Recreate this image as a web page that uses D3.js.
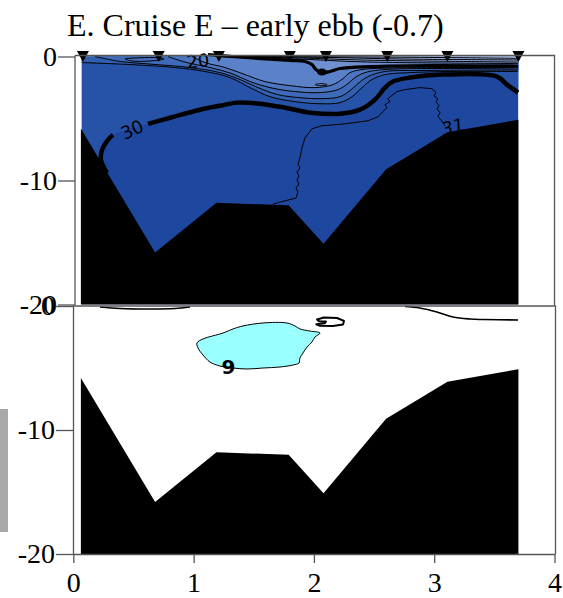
<!DOCTYPE html>
<html>
<head>
<meta charset="utf-8">
<script src="https://cdn.jsdelivr.net/npm/d3@7"></script>
<style>
  body { margin: 0; background: #fff; }
  svg { display: block; }
  .tick text { font-family: "Liberation Serif", "Times New Roman", serif; font-size: 28px; fill: #000; }
  .tick line, .domain { stroke: #555; stroke-width: 1.3; }
</style>
</head>
<body>
<svg id="chart" width="563" height="598"></svg>
<script>
// ---- section data (distance along transect in km, depth in m) ----
const title = "E. Cruise E \u2013 early ebb (-0.7)";
const xTicks = [0, 1, 2, 3, 4];
const yTicks = [0, -10, -20];
const stations = [0.08, 0.71, 1.21, 1.80, 2.10, 2.61, 3.11, 3.70];
const sectionStart = 0.07, sectionEnd = 3.70;
const bathymetry = [[0.063, -5.8], [0.68, -15.8], [1.19, -11.8], [1.79, -12.0], [2.08, -15.1],
                    [2.60, -9.1], [3.11, -6.1], [3.70, -5.1]];

// salinity isolines (upper panel)
const sal30 = [[0.280, -9.39], [0.230, -8.34], [0.239, -7.53], [0.288, -6.72], [0.330, -6.32], null,
               [0.621, -5.43], [0.804, -4.94], [1.053, -4.29], [1.219, -3.97], [1.361, -3.72],
               [1.552, -3.81], [1.760, -4.13], [1.968, -4.53], [2.217, -4.62], [2.383, -4.29],
               [2.508, -3.48], [2.591, -2.51], [2.657, -2.02], [2.798, -1.70], [3.073, -1.46],
               [3.522, -1.62], [3.605, -2.27], [3.697, -2.91]];
const sal29 = [[0.072, -0.49], [0.471, -0.65], [0.845, -0.89], [1.095, -1.21], [1.303, -1.70],
               [1.469, -2.51], [1.635, -3.24], [1.843, -3.64], [2.051, -3.81], [2.217, -3.72],
               [2.317, -3.24], [2.400, -2.51], [2.483, -1.86], [2.591, -1.46], [2.798, -1.30],
               [3.131, -1.21], [3.697, -1.21]];
const sal28 = [[0.180, 0], [0.388, -0.40], [0.638, -0.61], [0.970, -0.89], [1.219, -1.30],
               [1.386, -1.86], [1.535, -2.51], [1.702, -3.08], [1.884, -3.32], [2.067, -3.40],
               [2.217, -3.24], [2.300, -2.75], [2.366, -2.19], [2.450, -1.62], [2.591, -1.21],
               [2.881, -1.13], [3.697, -1.09]];
const sal27 = [[0.787, 0], [0.929, -0.45], [1.136, -0.89], [1.319, -1.38], [1.469, -2.02],
               [1.635, -2.51], [1.843, -2.83], [2.051, -2.91], [2.200, -2.67], [2.283, -2.19],
               [2.341, -1.70], [2.425, -1.30], [2.591, -1.05], [3.697, -1.01]];
const sal26 = [[0.987, 0], [1.095, -0.49], [1.261, -0.89], [1.427, -1.46], [1.593, -2.02],
               [1.801, -2.35], [2.009, -2.51], [2.158, -2.27], [2.242, -1.78], [2.300, -1.30],
               [2.400, -1.05], [2.633, -0.93], [3.697, -0.89]];
const sal25 = [[1.120, 0.16], [1.370, -0.04], [1.801, -0.32], [1.926, -0.40], [1.984, -0.65],
               [2.017, -1.05], [2.067, -1.30], [2.134, -1.21], [2.217, -0.97], [2.466, -0.81],
               [2.965, -0.73], [3.697, -0.77]];
const sal24 = [[1.178, 0], [1.552, -0.12], [1.968, -0.24], [2.300, -0.40], [2.715, -0.49], [3.697, -0.57]];
const sal23 = [[1.236, 0], [1.884, -0.12], [2.383, -0.28], [2.881, -0.36], [3.697, -0.45]];
const sal22 = [[1.319, 0], [2.134, -0.08], [2.715, -0.20], [3.697, -0.28]];
const sal21 = [[1.510, 0], [2.383, -0.04], [3.048, -0.08], [3.697, -0.15]];
const sal31 = [[1.660, -11.90], [1.784, -11.58], [1.851, -11.42], [1.868, -10.93], [1.851, -10.61],
               [1.876, -10.28], [1.859, -9.96], [1.876, -9.64], [1.859, -9.31], [1.884, -8.99],
               [1.868, -8.66], [1.884, -8.18], [1.901, -7.37], [1.926, -6.56], [1.984, -5.83],
               [2.067, -5.59], [2.258, -5.43], [2.450, -5.18], [2.533, -4.86], [2.574, -4.45],
               [2.607, -4.13], [2.591, -3.89], [2.632, -3.64], [2.615, -3.40], [2.657, -3.08],
               [2.690, -2.83], [2.757, -2.67], [2.881, -2.51], [2.981, -2.59], [3.015, -2.91],
               [2.998, -3.16], [3.031, -3.40], [3.015, -3.64], [3.040, -3.97], [3.023, -4.21],
               [3.048, -4.53], [3.031, -4.86], [3.056, -5.10], [3.090, -5.59]];
const salLoop = [[0.430, -0.20], [0.554, -0.11], [0.704, -0.10], [0.754, -0.20], [0.638, -0.36],
                 [0.488, -0.36]];
const salEye = [[2.010, -2.27], [2.060, -2.19], [2.110, -2.27], [2.060, -2.35]];
const salBlob = [2.067, -1.26];

// fill order: deeper/saltier first, fresher bands painted on top
const salBands = [
  { line: sal30, color: "#2652a8" },
  { line: sal29, color: "#3260b1" },
  { line: sal28, color: "#3e6ab9" },
  { line: sal27, color: "#4c76c1" },
  { line: sal26, color: "#5b82c8" },
  { line: sal25, color: "#6f8fd1" },
  { line: sal24, color: "#7f9bd6" },
  { line: sal23, color: "#91aadd" },
  { line: sal22, color: "#a3b9e4" },
  { line: sal21, color: "#b5c7eb" }
];
const salThin = [sal29, sal28, sal27, sal26, sal24, sal23, sal22, sal21];
const salLabels = [
  { text: "30", pos: [0.489, -5.91], angle: -25, italic: false },
  { text: "20", pos: [1.036, -0.36], angle: -6, italic: false },
  { text: "31", pos: [3.156, -5.67], angle: -15, italic: true }
];

// lower panel isolines
const lowArcLeft = [[0.222, -0.08], [0.388, -0.20], [0.638, -0.24], [0.845, -0.20], [0.970, -0.08]];
const lowLineRight = [[2.757, -0.04], [2.881, -0.16], [3.023, -0.48], [3.156, -0.89], [3.298, -1.05],
                      [3.405, -1.09], [3.697, -1.13]];
const lowLoop = [[2.026, -1.09], [2.084, -0.93], [2.192, -0.97], [2.250, -1.20], [2.242, -1.50],
                 [2.158, -1.62], [2.051, -1.60], [2.020, -1.47], [2.090, -1.40], [2.100, -1.25],
                 [2.042, -1.22]];
const lowPatch9 = [[1.028, -2.98], [1.078, -2.66], [1.244, -2.18], [1.328, -1.85], [1.411, -1.61],
                   [1.577, -1.37], [1.776, -1.37], [1.843, -1.61], [1.884, -1.85], [1.968, -2.02],
                   [2.051, -2.18], [2.009, -2.50], [1.984, -2.90], [1.943, -3.31], [1.909, -3.79],
                   [1.884, -4.19], [1.876, -4.60], [1.826, -4.76], [1.718, -4.92], [1.577, -5.00],
                   [1.444, -5.08], [1.328, -5.00], [1.219, -4.84], [1.136, -4.52], [1.078, -3.95],
                   [1.037, -3.39]];
const lowLabel9 = { text: "9", pos: [1.290, -4.95] };

// ---- scales ----
const svg = d3.select("#chart");
const x = d3.scaleLinear().domain([0, 4]).range([73.3, 554.5]);
const yTop = d3.scaleLinear().domain([-20, 0]).range([304.5, 56.5]);
const yBot = d3.scaleLinear().domain([-20, 0]).range([554, 306]);
const serif = '"Liberation Serif", "Times New Roman", serif';
const sans = '"DejaVu Sans", "Liberation Sans", Arial, sans-serif';
const fmt = d => String(d);

// title
svg.append("text").attr("x", 67).attr("y", 36)
  .style("font-family", serif).style("font-size", "32px").text(title);

// grey bar at the left margin
svg.append("rect").attr("x", 0).attr("y", 409).attr("width", 8).attr("height", 123).attr("fill", "#a9a9a9");

function lineGen(y, curve) {
  return d3.line().defined(d => d != null).x(d => x(d[0])).y(d => y(d[1])).curve(curve || d3.curveLinear);
}
const bathyPoly = [[bathymetry[0][0], -20], ...bathymetry, [bathymetry[bathymetry.length - 1][0], -20]];

// ================= upper panel : salinity =================
const upper = svg.append("g");
upper.append("clipPath").attr("id", "waterTop").append("rect")
  .attr("x", x(sectionStart)).attr("y", yTop(0))
  .attr("width", x(sectionEnd) - x(sectionStart)).attr("height", yTop(-20) - yTop(0));

const fills = upper.append("g").attr("clip-path", "url(#waterTop)");
fills.append("rect").attr("x", x(sectionStart)).attr("y", yTop(0))
  .attr("width", x(sectionEnd) - x(sectionStart)).attr("height", yTop(-20) - yTop(0))
  .attr("fill", "#1e48a0");
const curve = lineGen(yTop, d3.curveCatmullRom);
// each band: the isoline, then back along the surface to where it starts
salBands.forEach(b => {
  const pts = b.line.filter(d => d != null);
  const p0 = pts[0];
  const close = p0[1] > -0.05 ? [[3.8, 0.5], [p0[0], 0.5]] : [[3.8, 0.5], [0, 0.5], [0, p0[1]]];
  const tail = close.map(p => `L${x(p[0])},${yTop(p[1])}`).join("");
  fills.append("path").attr("d", curve(pts) + tail + "Z").attr("fill", b.color);
});
fills.append("path").attr("d", lineGen(yTop, d3.curveCatmullRomClosed)(salLoop))
  .attr("fill", "#4a72bf").attr("stroke", "#000").attr("stroke-width", 1);
fills.append("path").attr("d", lineGen(yTop, d3.curveCatmullRomClosed)(salEye))
  .attr("fill", "#6a8bcf").attr("stroke", "#000").attr("stroke-width", 1);

salThin.forEach(l => upper.append("path").attr("d", curve(l)).attr("fill", "none")
  .attr("stroke", "#000").attr("stroke-width", 1));
upper.append("path").attr("d", lineGen(yTop)(sal31)).attr("fill", "none")
  .attr("stroke", "#000").attr("stroke-width", 1);
upper.append("path").attr("d", curve(sal25)).attr("fill", "none")
  .attr("stroke", "#000").attr("stroke-width", 3.2);
upper.append("ellipse").attr("cx", x(salBlob[0])).attr("cy", yTop(salBlob[1]))
  .attr("rx", 5).attr("ry", 3.5).attr("fill", "#000");
upper.append("path").attr("d", curve(sal30)).attr("fill", "none")
  .attr("stroke", "#000").attr("stroke-width", 4.5).attr("stroke-linejoin", "round");

// bottom topography
upper.append("path").attr("d", lineGen(yTop)(bathyPoly) + "Z").attr("fill", "#000");

salLabels.forEach(l => {
  upper.append("text")
    .attr("transform", `translate(${x(l.pos[0])},${yTop(l.pos[1])}) rotate(${l.angle})`)
    .attr("text-anchor", "middle").attr("dy", "0.35em")
    .style("font-family", sans).style("font-size", "18px")
    .style("font-style", l.italic ? "italic" : "normal")
    .attr("fill", "#000").text(l.text);
});

// station markers
upper.selectAll("path.station").data(stations).join("path").attr("class", "station")
  .attr("d", s => `M${x(s) - 6},51 L${x(s) + 6},51 L${x(s)},62 Z`).attr("fill", "#000");

// frame + axis
upper.append("path").attr("d", `M75,55.5 H554.5 V305`).attr("fill", "none")
  .attr("stroke", "#555").attr("stroke-width", 1.3);
upper.append("g").attr("transform", "translate(75,0)")
  .call(d3.axisLeft(yTop).tickValues(yTicks).tickFormat(fmt).tickSize(17).tickPadding(1).tickSizeOuter(0))
  .call(g => g.select(".domain").attr("d", `M0,55.5 V305`));

// ================= lower panel =================
const lower = svg.append("g");
const bline = lineGen(yBot, d3.curveCatmullRom);
lower.append("path").attr("d", lineGen(yBot, d3.curveCatmullRomClosed)(lowPatch9))
  .attr("fill", "#99ffff").attr("stroke", "#000").attr("stroke-width", 1);
lower.append("path").attr("d", bline(lowArcLeft)).attr("fill", "none").attr("stroke", "#000").attr("stroke-width", 1.5);
lower.append("path").attr("d", bline(lowLineRight)).attr("fill", "none").attr("stroke", "#000").attr("stroke-width", 1.6);
lower.append("path").attr("d", lineGen(yBot, d3.curveLinearClosed)(lowLoop)).attr("fill", "none")
  .attr("stroke", "#000").attr("stroke-width", 2).attr("stroke-linejoin", "round");
lower.append("path").attr("d", lineGen(yBot)(bathyPoly) + "Z").attr("fill", "#000");
lower.append("text").attr("x", x(lowLabel9.pos[0])).attr("y", yBot(lowLabel9.pos[1]))
  .attr("text-anchor", "middle").attr("dy", "0.35em")
  .style("font-family", sans).style("font-size", "20px").style("font-weight", "bold").text(lowLabel9.text);

lower.append("path").attr("d", `M73,306 H555.5 V554`).attr("fill", "none")
  .attr("stroke", "#555").attr("stroke-width", 1.3);
lower.append("g").attr("transform", "translate(73,0)")
  .call(d3.axisLeft(yBot).tickValues(yTicks).tickFormat(fmt).tickSize(17).tickPadding(1).tickSizeOuter(0));
lower.append("g").attr("transform", "translate(0,554)")
  .call(d3.axisBottom(x).tickValues(xTicks).tickFormat(fmt).tickSize(9).tickPadding(9).tickSizeOuter(0));
</script>
</body>
</html>
